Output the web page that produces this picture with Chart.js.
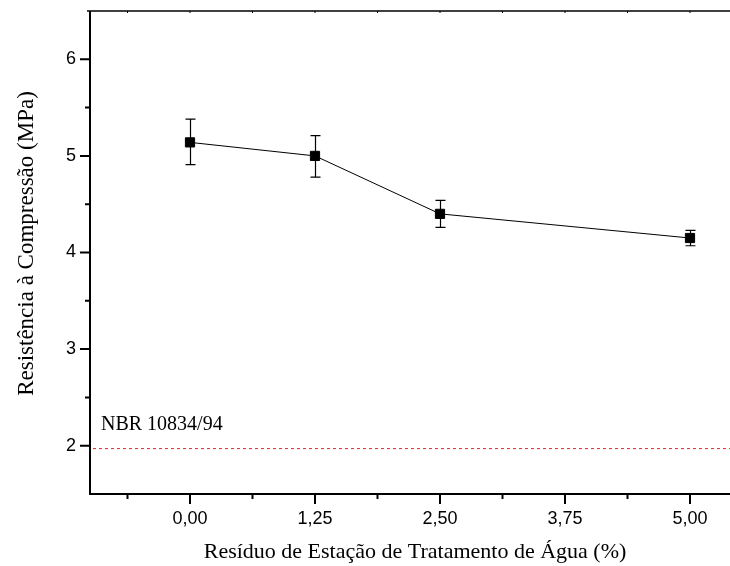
<!DOCTYPE html>
<html>
<head>
<meta charset="utf-8">
<script src="https://cdn.jsdelivr.net/npm/chart.js@4"></script>
<style>
  html, body { margin: 0; padding: 0; background: #fff; }
  #wrap { width: 730px; height: 566px; position: relative; }
</style>
</head>
<body>
<div id="wrap"><canvas id="c" width="730" height="566"></canvas></div>
<script>
// Compressive strength vs. water-treatment-plant residue content
const residue = [0, 1.25, 2.5, 5.0];            // % residue
const strength = [5.14, 5.00, 4.40, 4.15];      // MPa (mean)
const errHigh = [5.38, 5.21, 4.54, 4.23];       // upper bound of error bar
const errLow  = [4.91, 4.78, 4.26, 4.07];       // lower bound of error bar
const xTicks = [0, 1.25, 2.5, 3.75, 5.0];
const xTickLabels = ['0,00', '1,25', '2,50', '3,75', '5,00'];
const xMinor = [-0.625, 0.625, 1.875, 3.125, 4.375];
const yTicks = [2, 3, 4, 5, 6];
const yMinor = [2.5, 3.5, 4.5, 5.5];
const normLimit = 1.97;                          // NBR 10834/94 minimum
const normLabel = 'NBR 10834/94';
const xTitle = 'Resíduo de Estação de Tratamento de Água (%)';
const yTitle = 'Resistência à Compressão (MPa)';

const SERIF = '"Liberation Serif", "Times New Roman", serif';
const SANS = '"Liberation Sans", Arial, sans-serif';

const axesPlugin = {
  id: 'axesDecor',
  beforeDatasetsDraw(chart) {
    const { ctx, scales: { x, y } } = chart;
    ctx.save();
    // error bars
    ctx.strokeStyle = '#000';
    ctx.lineWidth = 1.2;
    residue.forEach((r, i) => {
      const px = Math.round(x.getPixelForValue(r)) + 0.5;
      const top = y.getPixelForValue(errHigh[i]);
      const bot = y.getPixelForValue(errLow[i]);
      ctx.beginPath();
      ctx.moveTo(px, top); ctx.lineTo(px, bot);
      ctx.moveTo(px - 5, top); ctx.lineTo(px + 5, top);
      ctx.moveTo(px - 5, bot); ctx.lineTo(px + 5, bot);
      ctx.stroke();
    });
    ctx.restore();
  },
  afterDraw(chart) {
    const { ctx, chartArea: a, scales: { x, y } } = chart;
    ctx.save();
    ctx.strokeStyle = '#000';
    // frame: left, bottom, top
    ctx.lineWidth = 2;
    ctx.beginPath();
    ctx.moveTo(a.left, a.top); ctx.lineTo(a.left, a.bottom + 1);
    ctx.moveTo(a.left - 1, a.bottom); ctx.lineTo(a.right, a.bottom);
    ctx.stroke();
    ctx.lineWidth = 1.5;
    ctx.beginPath();
    ctx.moveTo(a.left - 3, a.top); ctx.lineTo(a.right, a.top);
    ctx.stroke();
    // y ticks (outward)
    ctx.lineWidth = 2;
    ctx.beginPath();
    yTicks.forEach(v => { const p = y.getPixelForValue(v); ctx.moveTo(a.left - 10, p); ctx.lineTo(a.left, p); });
    yMinor.forEach(v => { const p = y.getPixelForValue(v); ctx.moveTo(a.left - 5, p); ctx.lineTo(a.left, p); });
    // x ticks (outward, bottom)
    xTicks.forEach(v => { const p = x.getPixelForValue(v); ctx.moveTo(p, a.bottom); ctx.lineTo(p, a.bottom + 10); });
    xMinor.forEach(v => { const p = x.getPixelForValue(v); ctx.moveTo(p, a.bottom); ctx.lineTo(p, a.bottom + 5); });
    ctx.stroke();
    // top axis small ticks
    ctx.lineWidth = 1;
    ctx.beginPath();
    xTicks.concat(xMinor).forEach(v => { const p = x.getPixelForValue(v); ctx.moveTo(p, a.top); ctx.lineTo(p, a.top + 2); });
    ctx.stroke();

    // reference label
    ctx.fillStyle = '#000';
    ctx.font = '20px ' + SERIF;
    ctx.textAlign = 'left';
    ctx.textBaseline = 'alphabetic';
    ctx.fillText(normLabel, x.getPixelForValue(-0.89), y.getPixelForValue(2.16));

    // axis titles
    ctx.font = '22px ' + SERIF;
    ctx.textAlign = 'center';
    ctx.fillText(xTitle, 415, 558);
    ctx.save();
    ctx.translate(33, 243.5);
    ctx.rotate(-Math.PI / 2);
    ctx.font = '23px ' + SERIF;
    ctx.fillText(yTitle, 0, 0);
    ctx.restore();
    ctx.restore();
  }
};

new Chart(document.getElementById('c'), {
  type: 'line',
  data: {
    datasets: [
      {
        data: residue.map((r, i) => ({ x: r, y: strength[i] })),
        borderColor: '#000',
        borderWidth: 1,
        pointStyle: 'rect',
        pointRadius: 6.5,
        pointBorderWidth: 1,
        pointBackgroundColor: '#000',
        pointBorderColor: '#000',
        tension: 0,
        order: 1
      },
      {
        data: [{ x: -0.97, y: normLimit }, { x: 5.4, y: normLimit }],
        borderColor: 'rgb(235,35,35)',
        borderWidth: 1,
        borderDash: [3, 3],
        pointRadius: 0,
        order: 2
      }
    ]
  },
  options: {
    responsive: false,
    animation: false,
    layout: { autoPadding: false, padding: { top: 11, right: 0, left: 0, bottom: 0 } },
    plugins: { legend: { display: false }, tooltip: { enabled: false } },
    scales: {
      x: {
        type: 'linear',
        min: -1, max: 5.4,
        grid: { display: false },
        border: { display: false },
        afterFit(s) { s.height = 72; s.paddingLeft = 0; s.paddingRight = 0; },
        afterBuildTicks(s) { s.ticks = xTicks.map(v => ({ value: v })); },
        ticks: {
          autoSkip: false, maxRotation: 0,
          padding: 6,
          color: '#000',
          font: { family: SANS, size: 18 },
          callback: (v) => xTickLabels[xTicks.indexOf(v)] ?? ''
        }
      },
      y: {
        type: 'linear',
        min: 1.5, max: 6.5,
        grid: { display: false },
        border: { display: false },
        afterFit(s) { s.width = 90; s.paddingTop = 0; s.paddingBottom = 0; },
        afterBuildTicks(s) { s.ticks = yTicks.map(v => ({ value: v })); },
        ticks: {
          padding: 6,
          color: '#000',
          font: { family: SANS, size: 18 },
          callback: (v) => String(v)
        }
      }
    }
  },
  plugins: [axesPlugin]
});
</script>
</body>
</html>
